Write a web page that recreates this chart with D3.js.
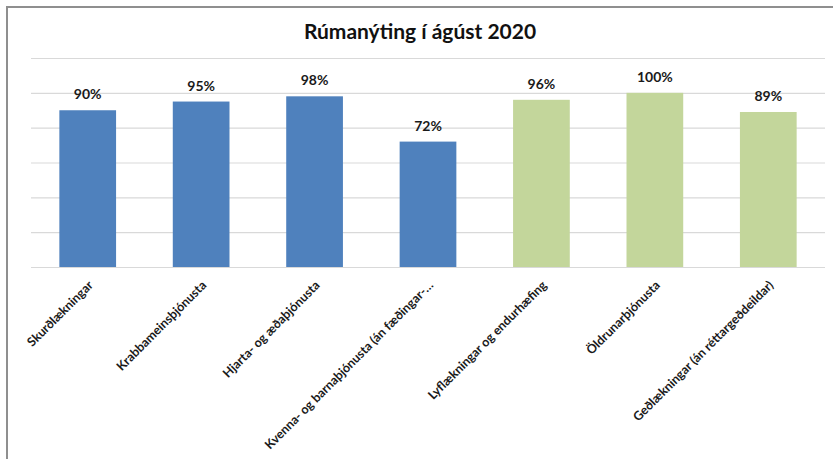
<!DOCTYPE html>
<html>
<head>
<meta charset="utf-8">
<script src="https://cdn.jsdelivr.net/npm/d3@7"></script>
<style>
  body { margin: 0; background: #fff; }
  svg { display: block; font-family: Lato, "Open Sans", sans-serif; }
</style>
</head>
<body>
<div id="chart"></div>
<script>
// data
var categories = [
  "Skurðlækningar",
  "Krabbameinsþjónusta",
  "Hjarta- og æðaþjónusta",
  "Kvenna- og barnaþjónusta (án fæðingar-…",
  "Lyflækningar og endurhæfing",
  "Öldrunarþjónusta",
  "Geðlækningar (án réttargeðdeildar)"
];
var values = [0.90, 0.95, 0.98, 0.72, 0.96, 1.00, 0.89];
var groups = ["a", "a", "a", "a", "b", "b", "b"];
var yTicks = [0, 0.2, 0.4, 0.6, 0.8, 1.0, 1.2];
var title = "Rúmanýting í ágúst 2020";

var width = 833, height = 459;

var svg = d3.select("#chart")
  .append("svg")
  .attr("width", width)
  .attr("height", height);

svg.append("rect")
  .attr("width", width)
  .attr("height", height)
  .style("fill", "#fff");

// outer frame, runs off the right and bottom edge
svg.append("rect")
  .attr("x", 7)
  .attr("y", 7)
  .attr("width", 860)
  .attr("height", 500)
  .style("fill", "none")
  .style("stroke", "#8f8f8f")
  .style("stroke-width", 2);

var x = d3.scaleBand()
  .domain(categories)
  .range([31, 825])
  .paddingInner(0.5)
  .paddingOuter(0.25);

var y = d3.scaleLinear()
  .domain([0, 1.2])
  .range([267, 58]);

var color = d3.scaleOrdinal()
  .domain(["a", "b"])
  .range(["#4f81bd", "#c3d69b"]);

// gridlines
var grid = svg.append("g")
  .attr("transform", "translate(31,0)")
  .call(d3.axisLeft(y).tickValues(yTicks).tickSize(-794).tickFormat(""));
grid.select(".domain").remove();
grid.selectAll("line").style("stroke", "#d9d9d9").style("stroke-width", 1.2);

// bars
svg.selectAll(".bar")
  .data(values)
  .enter().append("rect")
  .attr("class", "bar")
  .attr("x", function(d, i) { return x(categories[i]); })
  .attr("y", function(d) { return y(d); })
  .attr("width", x.bandwidth())
  .attr("height", function(d) { return y(0) - y(d); })
  .style("fill", function(d, i) { return color(groups[i]); });

// value labels
svg.selectAll(".val")
  .data(values)
  .enter().append("text")
  .attr("class", "val")
  .attr("x", function(d, i) { return x(categories[i]) + x.bandwidth() / 2; })
  .attr("y", function(d) { return y(d) - 11; })
  .attr("text-anchor", "middle")
  .style("font-size", "14px")
  .style("font-weight", "bold")
  .style("fill", "#1a1a1a")
  .text(function(d) { return Math.round(d * 100) + "%"; });

// category labels, rotated
svg.selectAll(".cat")
  .data(categories)
  .enter().append("text")
  .attr("class", "cat")
  .attr("transform", function(d) {
    return "translate(" + (x(d) + x.bandwidth() / 2 + 6) + ",286) rotate(-45)";
  })
  .attr("text-anchor", "end")
  .style("font-size", "12.5px")
  .style("font-weight", "bold")
  .style("fill", "#1a1a1a")
  .text(function(d) { return d; });

// title
svg.append("text")
  .attr("x", 420)
  .attr("y", 39)
  .attr("text-anchor", "middle")
  .style("font-size", "21px")
  .style("font-weight", "bold")
  .style("fill", "#111")
  .text(title);
</script>
</body>
</html>
